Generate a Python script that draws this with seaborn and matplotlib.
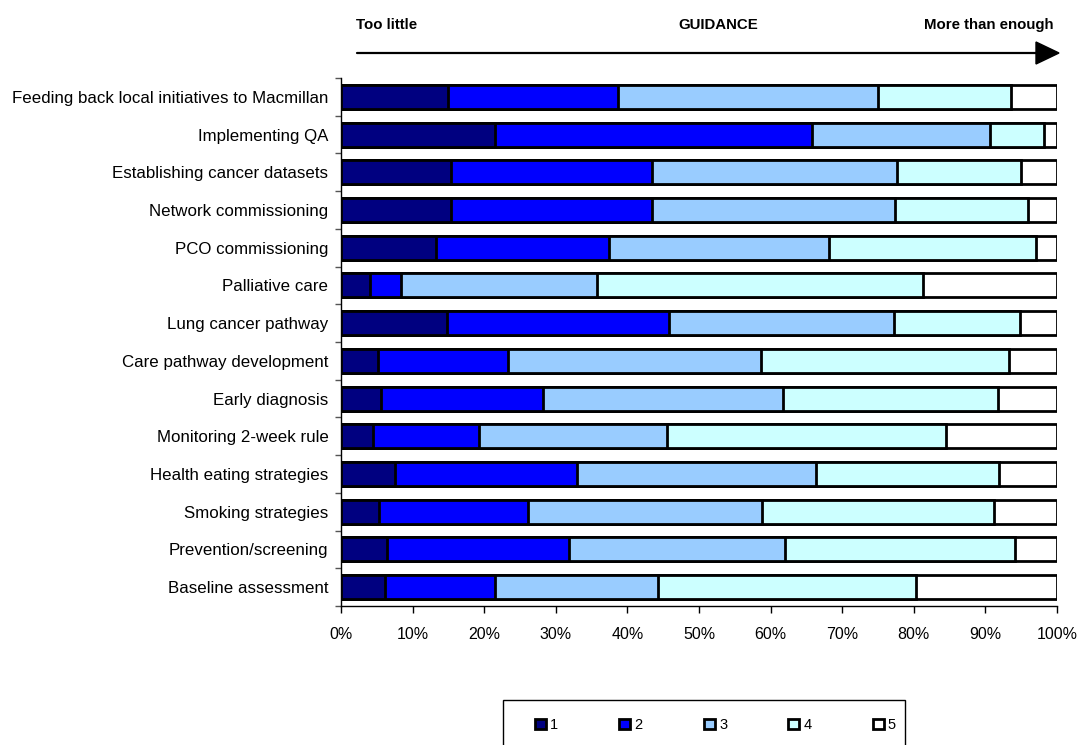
import matplotlib
matplotlib.use("Agg")
import matplotlib.pyplot as plt
import seaborn as sns
import pandas as pd
import numpy as np
from matplotlib.patches import Patch, Rectangle, Polygon
from matplotlib.lines import Line2D

# Survey items, top to bottom
categories = [
    "Feeding back local initiatives to Macmillan",
    "Implementing QA",
    "Establishing cancer datasets",
    "Network commissioning",
    "PCO commissioning",
    "Palliative care",
    "Lung cancer pathway",
    "Care pathway development",
    "Early diagnosis",
    "Monitoring 2-week rule",
    "Health eating strategies",
    "Smoking strategies",
    "Prevention/screening",
    "Baseline assessment",
]

# Share of responses (%) for each rating, 1 = too little ... 5 = more than enough
level_1 = [14.9, 21.5, 15.3, 15.4, 13.3, 4.0, 14.8, 5.1, 5.6, 4.5, 7.6, 5.3, 6.4, 6.1]
level_2 = [23.8, 44.3, 28.2, 28.0, 24.1, 4.4, 31.0, 18.2, 22.6, 14.8, 25.4, 20.8, 25.4, 15.4]
level_3 = [36.3, 24.9, 34.2, 34.0, 30.8, 27.3, 31.5, 35.3, 33.6, 26.3, 33.4, 32.7, 30.2, 22.8]
level_4 = [18.6, 7.5, 17.3, 18.6, 28.9, 45.6, 17.6, 34.7, 29.9, 38.9, 25.5, 32.4, 32.2, 36.0]
level_5 = [6.4, 1.8, 5.0, 4.0, 2.9, 18.7, 5.1, 6.7, 8.3, 15.5, 8.1, 8.8, 5.8, 19.7]

level_names = ["1", "2", "3", "4", "5"]
x_ticks = [0, 10, 20, 30, 40, 50, 60, 70, 80, 90, 100]
x_tick_labels = [f"{t}%" for t in x_ticks]

header_left = "Too little"
header_mid = "GUIDANCE"
header_right = "More than enough"

colors = ["#000080", "#0000FF", "#99CCFF", "#CCFFFF", "#FFFFFF"]

sns.set_style("white")
plt.rcParams["font.family"] = ["Liberation Sans", "DejaVu Sans"]
plt.rcParams["text.color"] = "black"
plt.rcParams["xtick.color"] = "black"
plt.rcParams["ytick.color"] = "black"
plt.rcParams["xtick.labelcolor"] = "black"
plt.rcParams["ytick.labelcolor"] = "black"

W, H = 1078, 745
fig = plt.figure(figsize=(W / 100, H / 100), dpi=100)
ax = fig.add_axes([341 / W, 1 - 606 / H, (1057 - 341) / W, (606 - 78) / H])

levels = np.array([level_1, level_2, level_3, level_4, level_5])
cumulative = np.cumsum(levels, axis=0)

# Stacked bars: draw the longest cumulative bar first, shorter ones on top
for k in range(4, -1, -1):
    df = pd.DataFrame({"category": categories, "value": cumulative[k]})
    sns.barplot(
        data=df, x="value", y="category", order=categories, orient="h",
        color=colors[k], saturation=1, edgecolor="black", linewidth=2.0,
        width=0.64, ax=ax,
    )

ax.set_xlim(0, 100)
ax.set_ylim(len(categories) - 0.5, -0.5)
ax.set_xlabel("")
ax.set_ylabel("")
ax.set_xticks(x_ticks)
ax.set_xticklabels(x_tick_labels)
ax.set_yticks(np.arange(-0.5, len(categories), 1), minor=True)
ax.tick_params(axis="y", which="major", length=0, pad=9, labelsize=12.2, labelcolor="black")
ax.tick_params(axis="y", which="minor", length=4, width=1, color="#555555", direction="out", left=True)
ax.tick_params(axis="x", which="major", length=5, width=1, color="black", direction="out",
               bottom=True, pad=10, labelsize=11.5, labelcolor="black")
for s in ["top", "right"]:
    ax.spines[s].set_visible(False)
for s in ["left", "bottom"]:
    ax.spines[s].set_color("black")
    ax.spines[s].set_linewidth(1)

# Header with direction arrow
fig.text(356 / W, 1 - 25 / H, header_left, ha="left", va="center", fontsize=10.8, fontweight="bold")
fig.text(718 / W, 1 - 25 / H, header_mid, ha="center", va="center", fontsize=10.8, fontweight="bold")
fig.text(1054 / W, 1 - 25 / H, header_right, ha="right", va="center", fontsize=10.8, fontweight="bold")
fig.add_artist(Line2D([357 / W, 1040 / W], [1 - 53 / H, 1 - 53 / H], transform=fig.transFigure,
                      color="black", lw=1.6))
fig.add_artist(Polygon([[1036 / W, 1 - 42 / H], [1059 / W, 1 - 53 / H], [1036 / W, 1 - 64 / H]],
                       closed=True, transform=fig.transFigure, facecolor="black", edgecolor="black"))

# Legend in a plain box below the chart
fig.add_artist(Rectangle((503 / W, -0.01), (905 - 503) / W, 1 - 700 / H + 0.01,
                         transform=fig.transFigure, fill=False, edgecolor="black", lw=1))
handles = [Patch(facecolor=c, edgecolor="black", linewidth=2.0) for c in colors]
fig.legend(handles, level_names, loc="center left", bbox_to_anchor=(535 / W, 1 - 725 / H),
           ncol=5, frameon=False, fontsize=10.5, handlelength=0.75, handleheight=0.75,
           handletextpad=0.3, columnspacing=4.18, borderpad=0, borderaxespad=0)

fig.savefig("out.png", dpi=100)
